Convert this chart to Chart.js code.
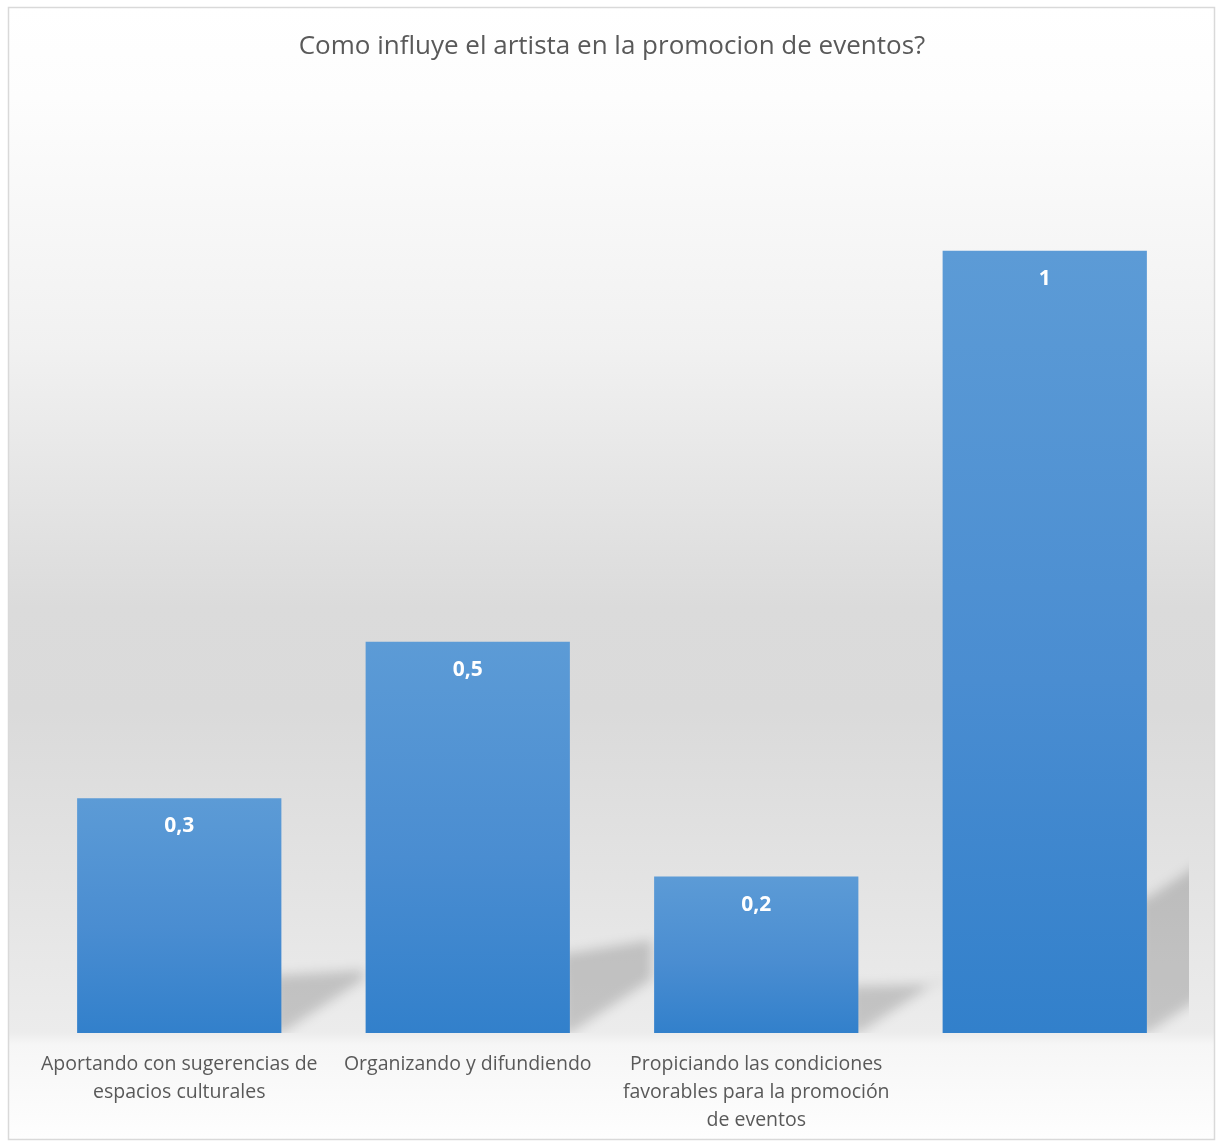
<!DOCTYPE html>
<html>
<head>
<meta charset="utf-8">
<script src="https://cdn.jsdelivr.net/npm/chart.js@4.4.1/dist/chart.umd.min.js"></script>
<style>
  html, body { margin: 0; padding: 0; background: #ffffff; }
  #wrap { width: 1217px; height: 1142px; }
</style>
</head>
<body>
<div id="wrap"><canvas id="chart" width="1217" height="1142"></canvas></div>
<script>
// Data
const chartTitle = 'Como influye el artista en la promocion de eventos?';
const categories = [
  ['Aportando con sugerencias de', 'espacios culturales'],
  ['Organizando y difundiendo'],
  ['Propiciando las condiciones', 'favorables para la promoción', 'de eventos'],
  ['']
];
const values = [0.3, 0.5, 0.2, 1];
const yMin = 0;
const yMax = 1.2;

// Decimal comma formatting for the value labels
function formatValue(v) {
  return String(v).replace('.', ',');
}

// Framed panel with a soft vertical grey gradient behind the plot
const panelBackground = {
  id: 'panelBackground',
  beforeDraw(chart) {
    const ctx = chart.ctx;
    const x0 = 8, y0 = 7, x1 = 1215, y1 = 1140;
    const g = ctx.createLinearGradient(0, y0, 0, y1);
    g.addColorStop(0.00, '#ffffff');
    g.addColorStop(0.08, '#fdfdfd');
    g.addColorStop(0.30, '#f1f1f1');
    g.addColorStop(0.53, '#dbdbdb');
    g.addColorStop(0.62, '#dadada');
    g.addColorStop(0.80, '#e5e5e5');
    g.addColorStop(0.905, '#ececec');
    g.addColorStop(0.916, '#f6f6f6');
    g.addColorStop(1.00, '#fefefe');
    ctx.save();
    ctx.fillStyle = g;
    ctx.fillRect(x0, y0, x1 - x0, y1 - y0);
    ctx.strokeStyle = '#d9d9d9';
    ctx.lineWidth = 1.5;
    ctx.strokeRect(x0 + 0.5, y0 + 0.5, x1 - x0 - 1, y1 - y0 - 1);
    ctx.restore();
  }
};

// Blurred diagonal shadow cast up and to the right of every bar
const barShadows = {
  id: 'barShadows',
  beforeDatasetsDraw(chart) {
    const ctx = chart.ctx;
    const area = chart.chartArea;
    const meta = chart.getDatasetMeta(0);
    ctx.save();
    ctx.beginPath();
    ctx.rect(area.left, area.top, area.right - area.left, area.bottom - area.top);
    ctx.clip();
    ctx.filter = 'blur(6px)';
    meta.data.forEach((bar) => {
      const props = bar.getProps(['x', 'y', 'base', 'width'], true);
      const xR = props.x + props.width / 2;
      const base = props.base;
      const H = base - props.y;
      const dx = 82, dy = 54;
      const h = 25 + 0.14 * H;
      const r = H / 782;
      const topSlope = 0.65 * r * r;
      ctx.fillStyle = 'rgba(0,0,0,0.17)';
      ctx.beginPath();
      ctx.moveTo(xR - 8, base);
      ctx.lineTo(xR, base);
      ctx.lineTo(xR + dx, base - dy);
      ctx.lineTo(xR + dx, base - h - topSlope * dx);
      ctx.lineTo(xR, base - h);
      ctx.lineTo(xR - 8, base - h);
      ctx.closePath();
      ctx.fill();
    });
    ctx.restore();
  }
};

// White bold value labels inside the top of each bar
const valueLabels = {
  id: 'valueLabels',
  afterDatasetsDraw(chart) {
    const ctx = chart.ctx;
    const meta = chart.getDatasetMeta(0);
    ctx.save();
    ctx.fillStyle = '#ffffff';
    ctx.font = 'bold 21px "Open Sans"';
    ctx.textAlign = 'center';
    ctx.textBaseline = 'middle';
    meta.data.forEach((bar, i) => {
      const p = bar.getProps(['x', 'y'], true);
      ctx.fillText(formatValue(values[i]), p.x, p.y + 28);
    });
    ctx.restore();
  }
};

// Vertical blue gradient for each bar, light at its top edge
function barFill(context) {
  const chart = context.chart;
  const yScale = chart.scales.y;
  if (!yScale || context.dataIndex === undefined) return '#4a8fd2';
  const v = values[context.dataIndex];
  const top = yScale.getPixelForValue(v);
  const base = yScale.getPixelForValue(0);
  if (!isFinite(top) || !isFinite(base) || top === base) return '#4a8fd2';
  const g = chart.ctx.createLinearGradient(0, top, 0, base);
  g.addColorStop(0, '#5c9bd6');
  g.addColorStop(0.55, '#4a8dd1');
  g.addColorStop(1, '#3280cb');
  return g;
}

new Chart(document.getElementById('chart'), {
  type: 'bar',
  data: {
    labels: categories,
    datasets: [{
      data: values,
      backgroundColor: barFill,
      borderWidth: 0,
      barPercentage: 0.708,
      categoryPercentage: 1.0
    }]
  },
  options: {
    responsive: false,
    animation: false,
    devicePixelRatio: 1,
    layout: { padding: { left: 35, right: 28, top: 0, bottom: 0 } },
    plugins: {
      legend: { display: false },
      tooltip: { enabled: false },
      title: {
        display: true,
        text: chartTitle,
        color: '#595959',
        font: { family: '"Open Sans"', size: 26, weight: 'normal', lineHeight: 1.2 },
        padding: { top: 31, bottom: 32 }
      }
    },
    scales: {
      x: {
        grid: { display: false, drawTicks: false },
        border: { display: false },
        ticks: {
          color: '#595959',
          font: { family: '"Open Sans"', size: 19.5, lineHeight: 1.436 },
          padding: 17,
          autoSkip: false,
          maxRotation: 0,
          minRotation: 0
        },
        afterFit(scale) { scale.height = 1142 - 1033; }
      },
      y: {
        display: false,
        min: yMin,
        max: yMax
      }
    }
  },
  plugins: [panelBackground, barShadows, valueLabels]
});
</script>
</body>
</html>
